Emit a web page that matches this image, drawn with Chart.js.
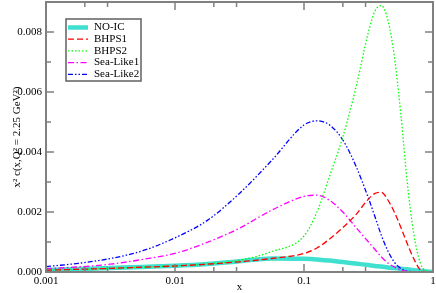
<!DOCTYPE html>
<html>
<head>
<meta charset="utf-8">
<script src="https://cdn.jsdelivr.net/npm/chart.js@4.4.0/dist/chart.umd.min.js"></script>
<style>
  html, body { margin: 0; padding: 0; background: #fff; }
  canvas { display: block; }
</style>
</head>
<body>
<canvas id="icChart" width="436" height="293"></canvas>
<script>
// x values (log spaced)
const xValues = [0.001, 0.00178, 0.00316, 0.00562, 0.01, 0.0178, 0.0316, 0.0562, 0.1, 0.126, 0.158, 0.2,
                 0.251, 0.316, 0.355, 0.398, 0.447, 0.501, 0.562, 0.631, 0.708, 0.794, 0.891, 1];

const noIC     = [0.00007, 0.0001, 0.00013, 0.00017, 0.00021, 0.00027, 0.00036, 0.00045, 0.00044, 0.00042, 0.00038, 0.00033,
                  0.00028, 0.00023, 0.0002, 0.00018, 0.00015, 0.00013, 0.00011, 0.00009, 0.00006, 0.00004, 0.00002, 0];
const bhps1    = [0.00006, 0.00009, 0.00012, 0.00016, 0.0002, 0.00026, 0.00034, 0.00045, 0.00062, 0.0008, 0.0011, 0.00148,
                  0.0019, 0.00243, 0.00262, 0.00266, 0.0024, 0.002, 0.0015, 0.00095, 0.00045, 0.00008, 0.00001, 0];
const bhps2    = [0.00006, 0.00009, 0.00012, 0.00016, 0.0002, 0.00027, 0.00039, 0.00068, 0.0012, 0.002, 0.0032, 0.0045,
                  0.0061, 0.008, 0.0087, 0.00888, 0.0084, 0.0072, 0.0053, 0.003, 0.0013, 0.00032, 0.00003, 0];
const seaLike1 = [0.00011, 0.00017, 0.00026, 0.00042, 0.00062, 0.00099, 0.00146, 0.00206, 0.00252, 0.00256, 0.00239, 0.002,
                  0.0015, 0.001, 0.00075, 0.0005, 0.0003, 0.00017, 0.00007, 0.00002, 0.000005, 0, 0, 0];
const seaLike2 = [0.00018, 0.00029, 0.00045, 0.00071, 0.00114, 0.00172, 0.00262, 0.00372, 0.0049, 0.00504, 0.0049, 0.0044,
                  0.00356, 0.00246, 0.00184, 0.00122, 0.0007, 0.00033, 0.00012, 0.00003, 0.00001, 0, 0, 0];

const seriesNames = ['NO-IC', 'BHPS1', 'BHPS2', 'Sea-Like1', 'Sea-Like2'];
const xTickLabels = ['0.001', '0.01', '0.1', '1'];
const xMinorTicks = [0.002, 0.003, 0.02, 0.03, 0.2, 0.3];
const yTickLabels = ['0.000', '0.002', '0.004', '0.006', '0.008'];

const serif = "'Liberation Serif', 'Times New Roman', serif";
const frameColor = '#808080';

function toPoints(ys) {
    return xValues.map((x, i) => ({ x: x, y: ys[i] }));
}

// frame, inward ticks on all four sides and the boxed legend
const framePlugin = {
    id: 'frame',
    afterDatasetsDraw(chart) {
        const { ctx, chartArea: a, scales: { x, y } } = chart;
        ctx.save();
        ctx.strokeStyle = frameColor;
        ctx.lineWidth = 1.5;

        const xTick = (v, len) => {
            const px = x.getPixelForValue(v);
            ctx.beginPath();
            ctx.moveTo(px, a.bottom); ctx.lineTo(px, a.bottom - len);
            ctx.moveTo(px, a.top); ctx.lineTo(px, a.top + len);
            ctx.stroke();
        };
        const yTick = (v, len) => {
            const py = y.getPixelForValue(v);
            ctx.beginPath();
            ctx.moveTo(a.left, py); ctx.lineTo(a.left + len, py);
            ctx.moveTo(a.right, py); ctx.lineTo(a.right - len, py);
            ctx.stroke();
        };
        xTickLabels.forEach(t => xTick(parseFloat(t), 8));
        xMinorTicks.forEach(v => xTick(v, 5));
        for (let k = 0; k <= 9; k++) yTick(k / 1000, k % 2 === 0 ? 8 : 5);

        ctx.lineWidth = 2;
        ctx.strokeRect(a.left, a.top, a.width, a.height);

        // legend
        const box = { left: 66, top: 19, right: 141, bottom: 81 };
        ctx.fillStyle = '#fff';
        ctx.fillRect(box.left, box.top, box.right - box.left, box.bottom - box.top);
        ctx.strokeStyle = '#606060';
        ctx.lineWidth = 1.5;
        ctx.strokeRect(box.left, box.top, box.right - box.left, box.bottom - box.top);
        ctx.font = '11px ' + serif;
        ctx.textBaseline = 'middle';
        ctx.textAlign = 'left';
        chart.data.datasets.forEach((ds, i) => {
            const ry = 27.5 + i * 11.7;
            ctx.strokeStyle = ds.borderColor;
            ctx.lineWidth = ds.borderWidth;
            ctx.setLineDash(ds.borderDash || []);
            ctx.beginPath();
            ctx.moveTo(68, ry); ctx.lineTo(88, ry);
            ctx.stroke();
            ctx.setLineDash([]);
            ctx.fillStyle = '#000';
            ctx.fillText(ds.label, 94, ry);
        });
        ctx.restore();
    }
};

const ctx = document.getElementById('icChart').getContext('2d');

const icChart = new Chart(ctx, {
    type: 'line',
    data: {
        datasets: [
            { label: seriesNames[0], data: toPoints(noIC), borderColor: '#40E0D0', borderWidth: 4.5, order: 1 },
            { label: seriesNames[1], data: toPoints(bhps1), borderColor: '#FF0000', borderWidth: 1.3, borderDash: [6, 3] },
            { label: seriesNames[2], data: toPoints(bhps2), borderColor: '#00FF00', borderWidth: 1.3, borderDash: [1.5, 2] },
            { label: seriesNames[3], data: toPoints(seaLike1), borderColor: '#FF00FF', borderWidth: 1.3, borderDash: [6, 2.5, 1.5, 2.5] },
            { label: seriesNames[4], data: toPoints(seaLike2), borderColor: '#0000FF', borderWidth: 1.3, borderDash: [5, 2, 1.5, 2, 1.5, 2] }
        ]
    },
    options: {
        responsive: false,
        animation: false,
        devicePixelRatio: 1,
        layout: { padding: { top: 2, right: 3, left: 0, bottom: 0 } },
        elements: {
            point: { radius: 0 },
            line: { cubicInterpolationMode: 'monotone', fill: false }
        },
        plugins: {
            legend: { display: false },
            tooltip: { enabled: false }
        },
        scales: {
            x: {
                type: 'logarithmic',
                min: 0.001,
                max: 1,
                afterFit(s) { s.height = 21; s.paddingLeft = 0; s.paddingRight = 0; },
                afterBuildTicks(s) { s.ticks = xTickLabels.map(t => ({ value: parseFloat(t) })); },
                ticks: {
                    callback: (v, i) => xTickLabels[i],
                    maxRotation: 0,
                    autoSkip: false,
                    padding: 3,
                    color: '#000',
                    font: { family: serif, size: 11 }
                },
                grid: { display: false, drawTicks: false },
                border: { display: false },
                title: { display: true, text: 'x', padding: 0, color: '#000', font: { family: serif, size: 11, lineHeight: 1.1 } }
            },
            y: {
                min: 0,
                max: 0.009,
                afterFit(s) { s.width = 46; s.paddingTop = 0; s.paddingBottom = 0; },
                ticks: {
                    stepSize: 0.001,
                    callback: (v) => {
                        const k = Math.round(v * 1000);
                        return k % 2 === 0 ? yTickLabels[k / 2] : '';
                    },
                    padding: 4,
                    color: '#000',
                    font: { family: serif, size: 11 }
                },
                grid: { display: false, drawTicks: false },
                border: { display: false },
                title: {
                    display: true,
                    text: 'x² c(x,Q² = 2.25 GeV²)',
                    padding: { top: 11, bottom: 0 },
                    color: '#000',
                    font: { family: serif, size: 11 }
                }
            }
        }
    },
    plugins: [framePlugin]
});
</script>
</body>
</html>
